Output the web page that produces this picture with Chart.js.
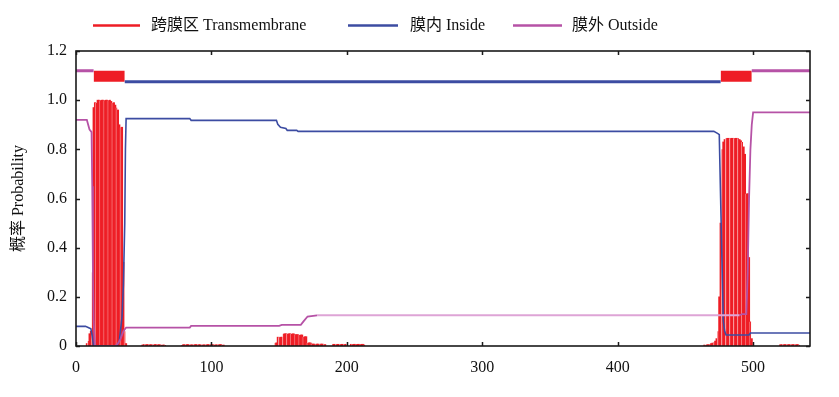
<!DOCTYPE html>
<html>
<head>
<meta charset="utf-8">
<script src="https://cdn.jsdelivr.net/npm/chart.js@4.4.0/dist/chart.umd.min.js"></script>
<style>
html,body{margin:0;padding:0;background:#ffffff;}
#wrap{width:839px;height:397px;position:relative;}
</style>
</head>
<body>
<div id="wrap"><canvas id="c" width="839" height="397"></canvas></div>
<script>
// ---------- data ----------
const seriesLabels = ['跨膜区 Transmembrane', '膜内 Inside', '膜外 Outside'];
const yAxisTitle = '概率 Probability';
const xTicks = [0, 100, 200, 300, 400, 500];
const yTicks = [0, 0.2, 0.4, 0.6, 0.8, 1.0, 1.2];
const seqLength = 542;

// Transmembrane probability, per residue: start residue + values
const tmPeak1Start = 8;
const tmPeak1 = [0.01,0.02,0.05,0.06,0.3,0.97,0.99,0.99,
  1.0,1.0,1.0,1.0,1.0,1.0,1.0,1.0,1.0,1.0,
  0.995,0.99,0.99,0.98,0.97,0.96,0.9,0.89,0.89,0.34,0.06,0.01];
const tmTail1Start = 49;
const tmTail1 = [0.004,0.006,0.006,0.006,0.006,0.006,0.006,0.005,0.005,0.006,0.006,0.006,0.006,0.005,0.005,0.004,0.004,0.004];
const tmTail2Start = 78;
const tmTail2 = [0.004,0.005,0.006,0.006,0.006,0.006,0.005,0.005,0.005,0.006,0.006,0.006,0.006,0.006,0.005,0.005,0.005,0.005,0.006,0.006,0.006,0.006,0.006,0.006,0.005,0.005,0.005,0.006,0.006,0.006,0.005,0.004];
const tmBumpStart = 147;
const tmBump = [0.013,0.013,0.036,0.036,0.036,0.036,0.05,0.05,0.05,0.05,0.05,0.05,0.05,0.05,0.049,0.048,0.047,0.046,0.045,0.045,0.045,0.038,0.038,0.038,0.013,0.013,0.013,0.013,0.008,0.008,0.008,0.008,0.008,0.008,0.008,0.008,0.007,0.006];
const tmTail3Start = 190;
const tmTail3 = [0.007,0.007,0.007,0.007,0.007,0.007,0.007,0.007,0.007,0.007];
const tmTail4Start = 203;
const tmTail4 = [0.007,0.007,0.007,0.007,0.007,0.007,0.007,0.007,0.007,0.007,0.006];
const tmPeak2Start = 464;
const tmPeak2 = [0.004,0.004,0.005,0.006,0.008,0.01,0.012,0.015,0.02,0.03,0.06,0.2,0.5,0.8,0.83,
  0.84,0.845,0.845,0.845,0.845,0.845,0.845,0.845,0.845,0.845,0.845,0.84,
  0.835,0.83,0.81,0.78,0.62,0.62,0.36,0.1,0.03];
const tmTail5Start = 520;
const tmTail5 = [0.005,0.006,0.006,0.006,0.006,0.006,0.006,0.006,0.006,0.006,0.006,0.006,0.006,0.006,0.005];

// Inside probability (residue, value)
const insideX = [0, 7, 9, 11, 12, 13, 30, 32, 34, 35, 36, 36.5, 37, 84, 85, 148, 149, 151, 155, 156, 163, 164, 471, 474, 475, 476, 477, 478, 479, 480, 497, 498, 542];
const insideY = [0.08, 0.08, 0.075, 0.07, 0.04, 0.0, 0.0, 0.02, 0.12, 0.25, 0.5, 0.8, 0.925, 0.925, 0.918, 0.918, 0.902, 0.89, 0.885, 0.877, 0.877, 0.873, 0.873, 0.864, 0.86, 0.6, 0.35, 0.1, 0.06, 0.045, 0.045, 0.053, 0.053];

// Outside probability (residue, value)
const outsideX = [0, 8, 9, 10, 11.5, 12, 12.5, 13, 14, 29, 31, 33, 35, 37, 84, 85, 150, 152, 166, 168, 171, 178, 490, 492, 495, 496, 497, 498, 499, 500, 542];
const outsideY = [0.92, 0.92, 0.9, 0.88, 0.87, 0.65, 0.3, 0.1, 0.0, 0.0, 0.01, 0.03, 0.06, 0.075, 0.075, 0.082, 0.082, 0.086, 0.086, 0.1, 0.12, 0.125, 0.125, 0.13, 0.13, 0.3, 0.6, 0.8, 0.9, 0.95, 0.95];

// Predicted topology (residue ranges)
const topoInside = [[36, 476]];
const topoOutside = [[0, 13], [499, 542]];
const topoTM = [[13, 36], [476, 499]];
const topoInsideLevel = 1.075;
const topoOutsideLevel = 1.12;

// ---------- build ----------
const RED = '#ee1d25', BLUE = '#3c4ca2', MAGENTA = '#b652a6', PINK = '#dea4d6';
const FONT = '"Liberation Serif", "Times New Roman", "Noto Sans CJK SC", serif';
Chart.defaults.font.family = FONT;
Chart.defaults.font.size = 16;
Chart.defaults.color = '#111111';

const pieces = [[tmPeak1Start, tmPeak1],[tmTail1Start, tmTail1],[tmTail2Start, tmTail2],[tmBumpStart, tmBump],
  [tmTail3Start, tmTail3],[tmTail4Start, tmTail4],[tmPeak2Start, tmPeak2],[tmTail5Start, tmTail5]];
const tmData = pieces.flatMap(([s, vals]) => vals.map((v, i) => ({x: s + i, y: v})));
const zip = (xs, ys) => xs.map((x, i) => ({x: x, y: ys[i]}));
const rangesToLine = (ranges, level) => {
  const out = [];
  ranges.forEach((r, i) => {
    if (i > 0) out.push({x: (ranges[i-1][1] + r[0]) / 2, y: null});
    out.push({x: r[0], y: level}, {x: r[1], y: level});
  });
  return out;
};

const datasets = [
  {type:'line', label: seriesLabels[2], data: zip(outsideX, outsideY), borderColor: MAGENTA, borderWidth: 1.8,
   pointRadius: 0, fill: false, tension: 0, order: 0,
   segment: {borderColor: ctx => (ctx.p0.parsed.x >= 176 && ctx.p1.parsed.x <= 490) ? PINK : MAGENTA}},
  {type:'line', label: seriesLabels[1], data: zip(insideX, insideY), borderColor: BLUE, borderWidth: 1.6,
   pointRadius: 0, fill: false, tension: 0, order: 1},
  {type:'bar', label: seriesLabels[0], data: tmData, backgroundColor: RED,
   borderColor: 'rgba(255,235,235,0.85)',
   borderWidth: ctx => (ctx.raw && ctx.raw.x % 3 === 0) ? {left: 1, right: 0, top: 0, bottom: 0} : 0,
   borderSkipped: false,
   barPercentage: 1, categoryPercentage: 1, order: 5},
  {type:'line', label: 'topo-out', data: rangesToLine(topoOutside, topoOutsideLevel), borderColor: MAGENTA, borderWidth: 3,
   pointRadius: 0, fill: false, spanGaps: false, order: 2},
  {type:'line', label: 'topo-in', data: rangesToLine(topoInside, topoInsideLevel), borderColor: BLUE, borderWidth: 3,
   pointRadius: 0, fill: false, spanGaps: false, order: 2},
  ...topoTM.map((r, i) => ({type:'line', label: 'topo-tm' + i, data: rangesToLine([r], topoOutsideLevel),
   borderColor: RED, borderWidth: 0, backgroundColor: RED, pointRadius: 0, fill: {value: topoInsideLevel}, order: 3}))
];

const legendEntries = [
  {label: seriesLabels[0], color: RED,     x1: 93,  x2: 140, tx: 151},
  {label: seriesLabels[1], color: BLUE,    x1: 348, x2: 398, tx: 410},
  {label: seriesLabels[2], color: MAGENTA, x1: 513, x2: 562, tx: 572}
];

const framePlugin = {
  id: 'frame',
  afterDatasetsDraw(chart) {
    const {ctx, chartArea: a, scales: {x, y}} = chart;
    ctx.save();
    ctx.strokeStyle = '#1a1a1a';
    ctx.lineWidth = 1.6;
    ctx.strokeRect(a.left, a.top, a.right - a.left, a.bottom - a.top);
    ctx.lineWidth = 1.5;
    ctx.beginPath();
    xTicks.forEach(v => {
      const px = Math.round(x.getPixelForValue(v)) + 0.5;
      ctx.moveTo(px, a.bottom); ctx.lineTo(px, a.bottom - 4);
      ctx.moveTo(px, a.top); ctx.lineTo(px, a.top + 4);
    });
    yTicks.forEach(v => {
      const py = Math.round(y.getPixelForValue(v)) + 0.5;
      ctx.moveTo(a.left, py); ctx.lineTo(a.left + 4, py);
      ctx.moveTo(a.right, py); ctx.lineTo(a.right - 4, py);
    });
    ctx.stroke();
    ctx.restore();
  },
  afterDraw(chart) {
    const ctx = chart.ctx;
    ctx.save();
    ctx.font = '16px ' + FONT;
    ctx.textBaseline = 'middle';
    ctx.textAlign = 'left';
    legendEntries.forEach(e => {
      ctx.strokeStyle = e.color;
      ctx.lineWidth = 2.5;
      ctx.beginPath();
      ctx.moveTo(e.x1, 25.5); ctx.lineTo(e.x2, 25.5);
      ctx.stroke();
      ctx.fillStyle = '#111111';
      ctx.fillText(e.label, e.tx, 26);
    });
    ctx.restore();
  }
};

new Chart(document.getElementById('c'), {
  type: 'bar',
  data: {datasets},
  options: {
    responsive: false,
    animation: false,
    devicePixelRatio: 1,
    layout: {padding: {top: 51, right: 29, left: 0, bottom: 0}},
    plugins: {legend: {display: false}, tooltip: {enabled: false}},
    scales: {
      x: {
        type: 'linear', min: 0, max: seqLength, offset: false,
        grid: {display: false, drawTicks: false},
        border: {display: false},
        afterBuildTicks: s => { s.ticks = xTicks.map(v => ({value: v})); },
        ticks: {padding: 12, font: {size: 16}, color: '#111111', maxRotation: 0, autoSkip: false},
        afterFit: s => { s.height = 51; }
      },
      y: {
        type: 'linear', min: 0, max: 1.2,
        grid: {display: false, drawTicks: false},
        border: {display: false},
        afterBuildTicks: s => { s.ticks = yTicks.map(v => ({value: v})); },
        ticks: {padding: 9, font: {size: 16}, color: '#111111',
          callback: v => v === 0 ? '0' : Number(v).toFixed(1)},
        title: {display: true, text: yAxisTitle, font: {size: 16}, color: '#111111', padding: {top: 9, bottom: 0}},
        afterFit: s => { s.width = 76; }
      }
    }
  },
  plugins: [framePlugin]
});
</script>
</body>
</html>
